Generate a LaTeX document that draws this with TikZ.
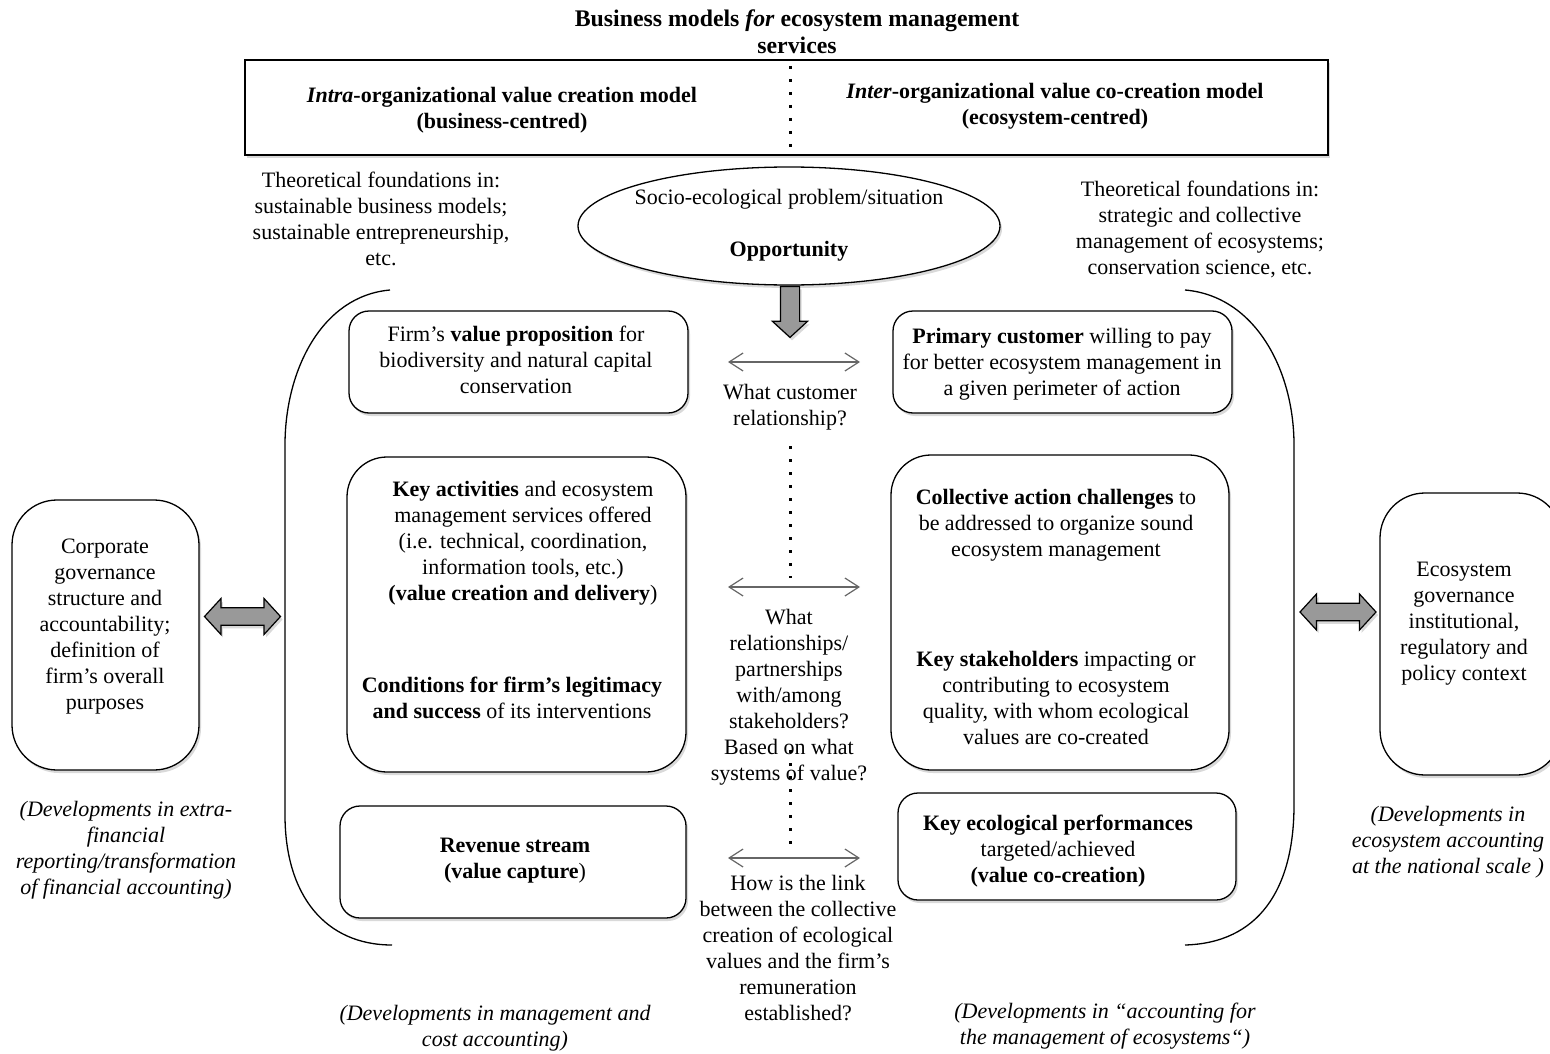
\documentclass[tikz,border=0pt]{standalone}
\usepackage{fontspec}
\setmainfont{Liberation Serif}
\usetikzlibrary{arrows.meta,shadows,shapes.geometric,shapes.arrows}
\begin{document}
\begin{tikzpicture}[x=1pt,y=-1pt,
  every node/.style={font=\fontsize{22}{26}\selectfont},
  shad/.style={drop shadow={shadow xshift=2pt,shadow yshift=-3pt,fill=black!25,opacity=0.6}},
  rbox/.style={draw,line width=1.3pt,fill=white,rounded corners=#1,shad},
  rbox/.default=20pt,
  txt/.style={align=center,inner sep=0pt},
  dots/.style={line width=3pt,dash pattern=on 3pt off 10pt},
  thinarr/.style={draw=black!60,line width=1.2pt,{Straight Barb[length=14pt,width=18pt]}-{Straight Barb[length=14pt,width=18pt]}},
  blockarr/.style={draw,line width=1.2pt,fill=black!40,shad}
]
\useasboundingbox (0,0) rectangle (1550,1054);

% title
\node[txt,font=\fontsize{23.8}{27}\selectfont] (title) at (797,31.5) {\textbf{Business models \textit{for} ecosystem management}\\\textbf{services}};

% top box
\draw[line width=1.5pt,fill=white,shad] (245,60) rectangle (1328,155);
\coordinate (td1) at (790,66);
\coordinate (td2) at (790,150);
\draw[dots] (td1) -- (td2);
\node[txt] (intra) at (502,110) {\textbf{\textit{Intra}-organizational value creation model}\\\textbf{(business-centred)}};
\node[txt] (inter) at (1055,106) {\textbf{\textit{Inter}-organizational value co-creation model}\\\textbf{(ecosystem-centred)}};

% theoretical foundations
\node[txt] (theoL) at (381,219) {Theoretical foundations in:\\sustainable business models;\\sustainable entrepreneurship,\\etc.};
\node[txt] (theoR) at (1200,229) {Theoretical foundations in:\\strategic and collective\\management of ecosystems;\\conservation science, etc.};

% ellipse
\node[ellipse,draw,line width=1.3pt,fill=white,minimum width=422pt,minimum height=118pt,shad] (opp) at (789,226) {};
\node[txt] (socio) at (789,199) {Socio-ecological problem/situation};
\node[txt] (oppt) at (789,251) {\textbf{Opportunity}};

% down arrow
\node[single arrow,blockarr,inner sep=9pt,shape border rotate=270,minimum width=35pt,minimum height=51pt,single arrow head extend=8pt,single arrow tip angle=95] (down) at (790,307.5) {};

% brackets
\draw[line width=1.3pt] (390,290) .. controls (322,296) and (285,370) .. (285,445) -- (285,815) .. controls (285,895) and (325,945) .. (392,945);
\draw[line width=1.3pt] (1185,290) .. controls (1255,296) and (1294,370) .. (1294,445) -- (1294,805) .. controls (1294,890) and (1258,943) .. (1185,945);

% boxes
\node[rbox,minimum width=339pt,minimum height=102pt] (b1) at (518.5,362) {};
\node[txt] (b1t) at (516,360) {Firm’s \textbf{value proposition} for\\biodiversity and natural capital\\conservation};

\node[rbox,minimum width=339pt,minimum height=102pt] (b2) at (1062.5,362) {};
\node[txt] (b2t) at (1062,364) {\textbf{Primary customer} willing to pay\\for better ecosystem management in\\a given perimeter of action};

\node[rbox=40pt,minimum width=339pt,minimum height=315pt] (b3) at (516.5,614.5) {};
\node[txt] (b3a) at (523,543.5) {\textbf{Key activities} and ecosystem\\management services offered\\(i.e. technical, coordination,\\information tools, etc.)\\\textbf{(value creation and delivery})};
\node[txt] (b3b) at (512,698) {\textbf{Conditions for firm’s legitimacy}\\\textbf{and success} of its interventions};

\node[rbox=40pt,minimum width=338pt,minimum height=315pt] (b4) at (1060,612.5) {};
\node[txt] (b4a) at (1056,525) {\textbf{Collective action challenges} to\\be addressed to organize sound\\ecosystem management};
\node[txt] (b4b) at (1056,698) {\textbf{Key stakeholders} impacting or\\contributing to ecosystem\\quality, with whom ecological\\values are co-created};

\node[rbox,minimum width=346pt,minimum height=112pt] (b5) at (513,862) {};
\node[txt] (b5t) at (515,861) {\textbf{Revenue stream}\\\textbf{(value capture})};

\node[rbox,minimum width=338pt,minimum height=107pt] (b6) at (1067,846.5) {};
\node[txt] (b6t) at (1058,851) {\textbf{Key ecological performances}\\targeted/achieved\\\textbf{(value co-creation)}};

% side boxes
\node[rbox=45pt,minimum width=187pt,minimum height=270pt] (lb) at (105.5,635) {};
\node[txt] (lbt) at (105,627) {Corporate\\governance\\structure and\\accountability;\\definition of\\firm’s overall\\purposes};

\node[rbox=45pt,minimum width=182pt,minimum height=282pt] (rb) at (1471,634) {};
\node[txt] (rbt) at (1464,624) {Ecosystem\\governance\\institutional,\\regulatory and\\policy context};

% block double arrows
\node[double arrow,blockarr,inner sep=8pt,minimum width=36pt,minimum height=76pt,double arrow head extend=9pt,double arrow tip angle=95] (la) at (242.5,616.5) {};
\node[double arrow,blockarr,inner sep=8pt,minimum width=36pt,minimum height=76pt,double arrow head extend=9pt,double arrow tip angle=95] (ra) at (1338,612) {};

% thin arrows
\coordinate (a1l) at (728,362); \coordinate (a1r) at (860,362);
\coordinate (a2l) at (728,587); \coordinate (a2r) at (860,587);
\coordinate (a3l) at (728,858); \coordinate (a3r) at (860,858);
\draw[thinarr] (a1l) -- (a1r);
\draw[thinarr] (a2l) -- (a2r);
\draw[thinarr] (a3l) -- (a3r);

% dotted lines center
\coordinate (d1) at (790,446); \coordinate (d2) at (790,578);
\coordinate (d3) at (790,750); \coordinate (d4) at (790,846);
\draw[dots] (d1) -- (d2);
\draw[dots] (d3) -- (d4);

% center questions
\node[txt] (q1) at (790,407) {What customer\\relationship?};
\node[txt] (q2) at (789,697) {What\\relationships/\\partnerships\\with/among\\stakeholders?\\Based on what\\systems of value?};
\node[txt] (q3) at (798,948) {How is the link\\between the collective\\creation of ecological\\values and the firm’s\\remuneration\\established?};

% developments
\node[txt,font=\fontsize{22}{26}\selectfont\itshape] (devL) at (126,850.5) {(Developments in extra-\\financial\\reporting/transformation\\of financial accounting)};
\node[txt,font=\fontsize{22}{26}\selectfont\itshape] (devM) at (495,1028) {(Developments in management and\\cost accounting)};
\node[txt,font=\fontsize{22}{26}\selectfont\itshape] (devR) at (1105,1026.5) {(Developments in “accounting for\\the management of ecosystems“)};
\node[txt,font=\fontsize{22}{26}\selectfont\itshape] (devN) at (1448,842.5) {(Developments in\\ecosystem accounting\\at the national scale )};
\end{tikzpicture}
\end{document}
